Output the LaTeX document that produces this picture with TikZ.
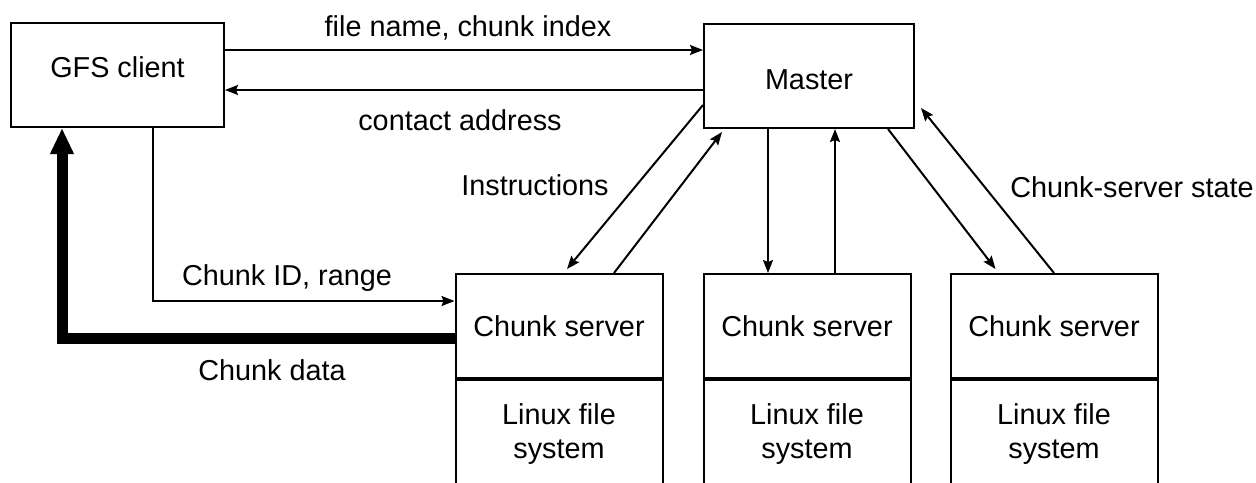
\documentclass[tikz,border=0pt]{standalone}
\usepackage{fontspec}
\setmainfont{Liberation Sans}
\usetikzlibrary{arrows.meta,positioning}

\tikzset{
  box/.style={draw, line width=1pt, minimum width=103.5pt, minimum height=52pt, inner sep=0pt, align=center},
  msg/.style={line width=1pt, -{Stealth[length=6.5pt,width=5pt,inset=1pt]}},
  bulk/.style={line width=5.5pt, -{Triangle[length=13pt,width=11pt]}},
  txt/.style={inner sep=0pt}
}

\begin{document}
\begin{tikzpicture}[x=0.5pt,y=-0.5pt,font=\fontsize{14.4}{17}\selectfont]
\useasboundingbox (0,0) rectangle (1256,482);

% client and master
\path (117.5,75) node[box, minimum width=106.5pt, text depth=8pt] (client){GFS client};
\path (809,76) node[box, minimum width=105pt, text height=14pt] (master){Master};

% chunk servers
\path (559,326) node[box] (cs1){Chunk server};
\path (807,326) node[box] (cs2){Chunk server};
\path (1054,326) node[box] (cs3){Chunk server};
\path (cs1.south) node[box, below=0pt of cs1, minimum height=54pt] (fs1){Linux file\\system};
\path (cs2.south) node[box, below=0pt of cs2, minimum height=54pt] (fs2){Linux file\\system};
\path (cs3.south) node[box, below=0pt of cs3, minimum height=54pt] (fs3){Linux file\\system};

% labels
\path (468,28) node[txt] (lname){file name, chunk index};
\path (460,120) node[txt] (laddr){contact address};
\path (287,278) node[txt] (lrange){Chunk ID, range};
\path (272,370) node[txt] (ldata){Chunk data};
\path (535,185) node[txt] (linstr){Instructions};
\path (1132,187) node[txt] (lstate){Chunk-server state};

% draw
\draw[msg] ([yshift=12.5pt]client.east) -- ([yshift=12.5pt]client.east -| master.west);
\draw[msg] ([yshift=-7.5pt]client.east -| master.west) -- ([yshift=-7.5pt]client.east);
\draw[msg] ([xshift=17.75pt]client.south) |- ([yshift=12.5pt]cs1.west);
\draw[bulk] ([yshift=-6pt]cs1.west) -| ([xshift=-27.75pt]client.south);

\draw[msg] ([yshift=-14.5pt]master.west) -- ([xshift=4pt,yshift=2pt]cs1.north);
\draw[msg] ([xshift=27.5pt]cs1.north) -- ([xshift=-43.5pt,yshift=-1.5pt]master.south);
\draw[msg] ([xshift=-20.5pt]master.south) -- ([xshift=-20.5pt]master.south |- cs2.north);
\draw[msg] ([xshift=13pt]master.south |- cs2.north) -- ([xshift=13pt]master.south);
\draw[msg] ([xshift=39.5pt]master.south) -- ([xshift=-29.25pt,yshift=2pt]cs3.north);
\draw[msg] (cs3.north) -- ([xshift=3pt,yshift=-16pt]master.east);
\end{tikzpicture}
\end{document}
